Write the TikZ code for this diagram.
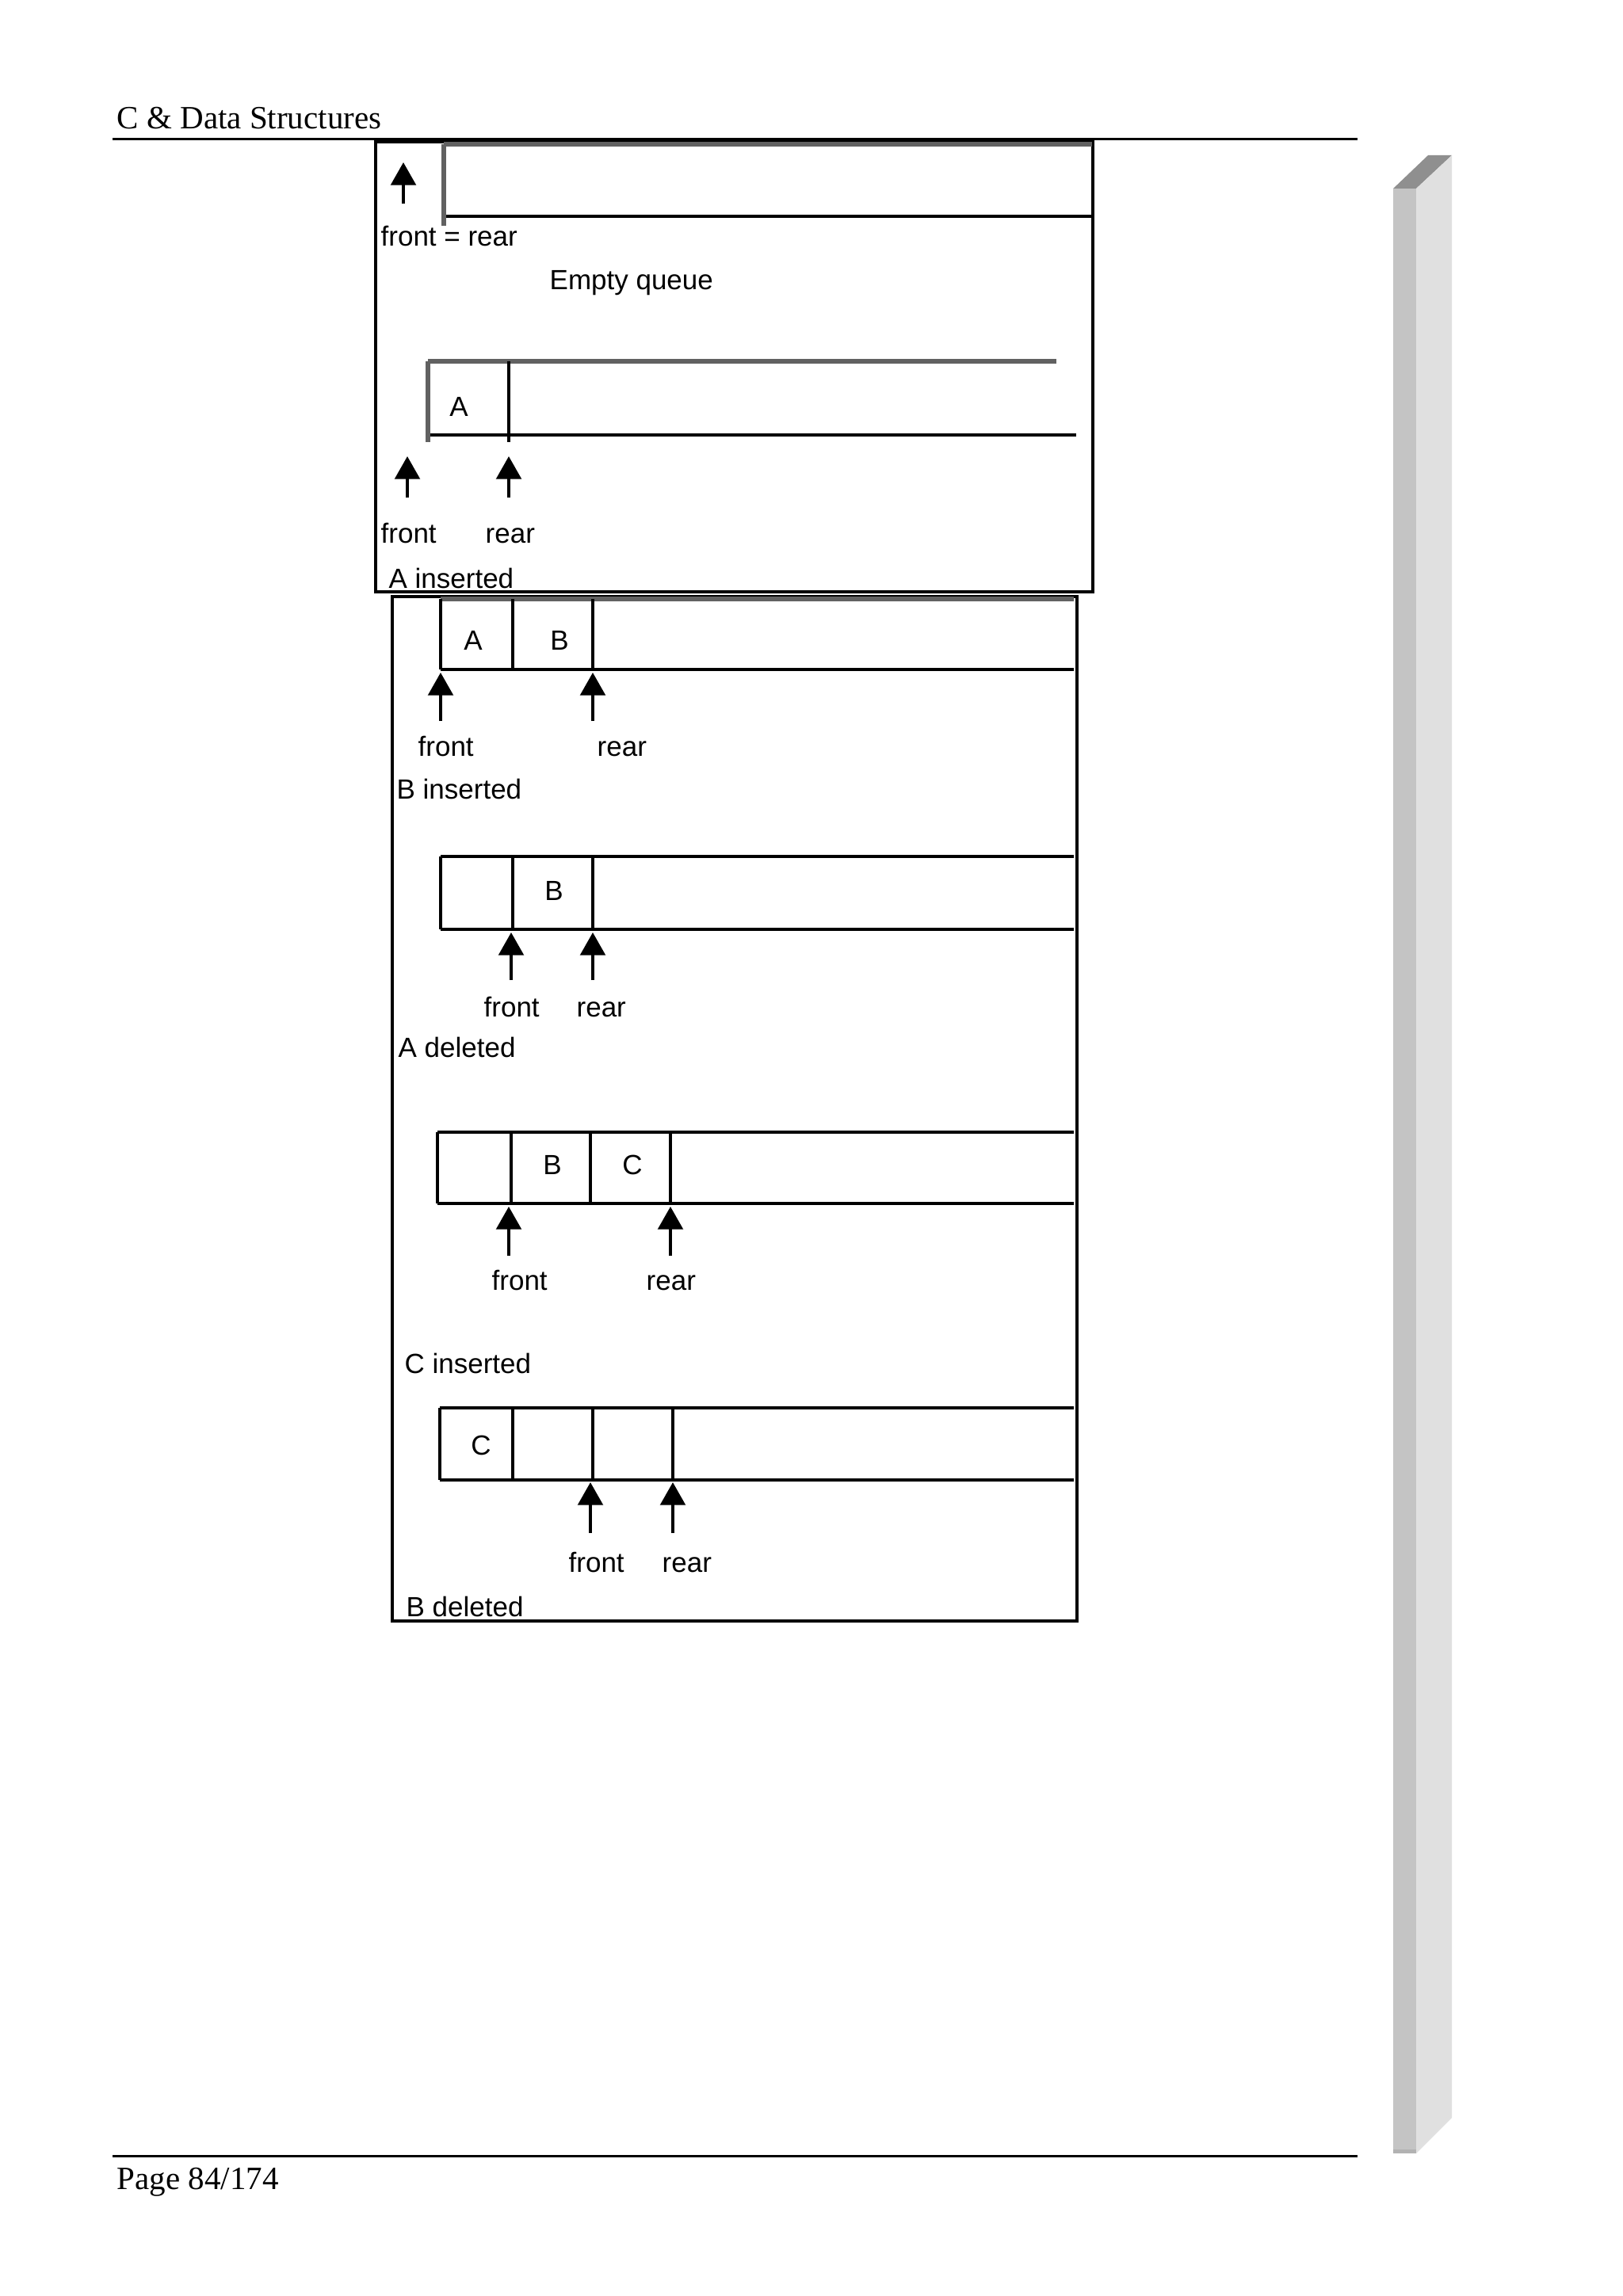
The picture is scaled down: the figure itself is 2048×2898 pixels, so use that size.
\documentclass[tikz,border=0pt]{standalone}
\usepackage{fontspec}
\setmainfont{Liberation Serif}
\newfontfamily\diafont{Liberation Sans}
\usetikzlibrary{arrows.meta}
\begin{document}
\begin{tikzpicture}[x=0.3pt,y=-0.3pt,
  lbl/.style={font=\diafont\fontsize{10.5}{12}\selectfont, inner sep=0pt, anchor=base west},
  cellt/.style={font=\diafont\fontsize{10.5}{12}\selectfont, inner sep=0pt, anchor=base},
  pagetxt/.style={font=\fontsize{12.3}{14}\selectfont, inner sep=0pt, anchor=base west},
  qline/.style={line width=1.4pt, black},
  qgray/.style={line width=1.9pt, black!62},
  frame/.style={line width=1.1pt, black},
  rule/.style={line width=0.9pt, black},
  ptr/.style={line width=1pt, -{Triangle[width=9.5pt,length=8.6pt]}}]
\useasboundingbox[fill=white] (0,0) rectangle (2048,2898);

% page header / footer
\node[pagetxt] (hdr) at (147,163) {C \& Data Structures};
\draw[rule] (142,176) -- (1713,176);
\draw[rule] (142,2721) -- (1713,2721);
\node[pagetxt] (ftr) at (147,2763) {Page 84/174};

% side bar
\fill[black!44] (1758,238) -- (1802,196) -- (1832,196) -- (1787,238) -- cycle;
\fill[black!23] (1758,238) rectangle (1787,2718);
\fill[black!12] (1787,238) -- (1832,196) -- (1832,2673) -- (1787,2718) -- cycle;
\fill[black!30] (1758,2713) rectangle (1787,2718);

% frames
\draw[frame] (474,179) rectangle (1379,747);
\draw[frame] (495,753) rectangle (1359,2046);

% ---------- Q1: empty queue
\draw[qgray] (560,182) -- (1378,182);
\draw[qline] (560,273) -- (1378,273);
\draw[qgray] (560,182) -- (560,285);
\coordinate (q1h) at (509,205);
\coordinate (q1t) at (509,257);
\draw[ptr] (q1t) -- (q1h);
\node[lbl] (q1l) at (480,310) {front = rear};
\node[lbl] (q1c) at (693,365) {Empty queue};

% ---------- Q2: A inserted
\draw[qgray] (540,456) -- (1333,456);
\draw[qline] (540,549) -- (1358,549);
\draw[qgray] (540,456) -- (540,558);
\draw[qline] (642,456) -- (642,558);
\node[cellt] (q2a) at (579,525) {A};
\coordinate (q2fh) at (514,576);
\coordinate (q2ft) at (514,628);
\coordinate (q2rh) at (642,576);
\coordinate (q2rt) at (642,628);
\draw[ptr] (q2ft) -- (q2fh);
\draw[ptr] (q2rt) -- (q2rh);
\node[lbl] (q2f) at (480,685) {front};
\node[lbl] (q2r) at (612,685) {rear};
\node[lbl] (q2c) at (490,742) {A inserted};

% ---------- Q3: B inserted
\draw[qgray] (556,756) -- (1355,756);
\draw[qline] (556,845) -- (1355,845);
\draw[qline] (556,756) -- (556,845);
\draw[qline] (647,756) -- (647,845);
\draw[qline] (748,756) -- (748,845);
\node[cellt] (q3a) at (597,820) {A};
\node[cellt] (q3b) at (706,820) {B};
\coordinate (q3fh) at (556,849);
\coordinate (q3ft) at (556,910);
\coordinate (q3rh) at (748,849);
\coordinate (q3rt) at (748,910);
\draw[ptr] (q3ft) -- (q3fh);
\draw[ptr] (q3rt) -- (q3rh);
\node[lbl] (q3f) at (527,954) {front};
\node[lbl] (q3r) at (753,954) {rear};
\node[lbl] (q3c) at (500,1008) {B inserted};

% ---------- Q4: A deleted
\draw[qline] (556,1081) -- (1355,1081);
\draw[qline] (556,1173) -- (1355,1173);
\draw[qline] (556,1081) -- (556,1173);
\draw[qline] (647,1081) -- (647,1173);
\draw[qline] (748,1081) -- (748,1173);
\node[cellt] (q4b) at (699,1136) {B};
\coordinate (q4fh) at (645,1177);
\coordinate (q4ft) at (645,1237);
\coordinate (q4rh) at (748,1177);
\coordinate (q4rt) at (748,1237);
\draw[ptr] (q4ft) -- (q4fh);
\draw[ptr] (q4rt) -- (q4rh);
\node[lbl] (q4f) at (610,1283) {front};
\node[lbl] (q4r) at (727,1283) {rear};
\node[lbl] (q4c) at (502,1334) {A deleted};

% ---------- Q5: C inserted
\draw[qline] (552,1429) -- (1355,1429);
\draw[qline] (552,1519) -- (1355,1519);
\draw[qline] (552,1429) -- (552,1519);
\draw[qline] (645,1429) -- (645,1519);
\draw[qline] (745,1429) -- (745,1519);
\draw[qline] (846,1429) -- (846,1519);
\node[cellt] (q5b) at (697,1482) {B};
\node[cellt] (q5c) at (798,1482) {C};
\coordinate (q5fh) at (642,1523);
\coordinate (q5ft) at (642,1585);
\coordinate (q5rh) at (846,1523);
\coordinate (q5rt) at (846,1585);
\draw[ptr] (q5ft) -- (q5fh);
\draw[ptr] (q5rt) -- (q5rh);
\node[lbl] (q5f) at (620,1628) {front};
\node[lbl] (q5r) at (815,1628) {rear};
\node[lbl] (q5lab) at (510,1733) {C inserted};

% ---------- Q6: B deleted
\draw[qline] (555,1777) -- (1355,1777);
\draw[qline] (555,1868) -- (1355,1868);
\draw[qline] (555,1777) -- (555,1868);
\draw[qline] (647,1777) -- (647,1868);
\draw[qline] (748,1777) -- (748,1868);
\draw[qline] (849,1777) -- (849,1868);
\node[cellt] (q6c) at (607,1836) {C};
\coordinate (q6fh) at (745,1871);
\coordinate (q6ft) at (745,1935);
\coordinate (q6rh) at (849,1871);
\coordinate (q6rt) at (849,1935);
\draw[ptr] (q6ft) -- (q6fh);
\draw[ptr] (q6rt) -- (q6rh);
\node[lbl] (q6f) at (717,1984) {front};
\node[lbl] (q6r) at (835,1984) {rear};
\node[lbl] (q6lab) at (512,2040) {B deleted};
\end{tikzpicture}
\end{document}
